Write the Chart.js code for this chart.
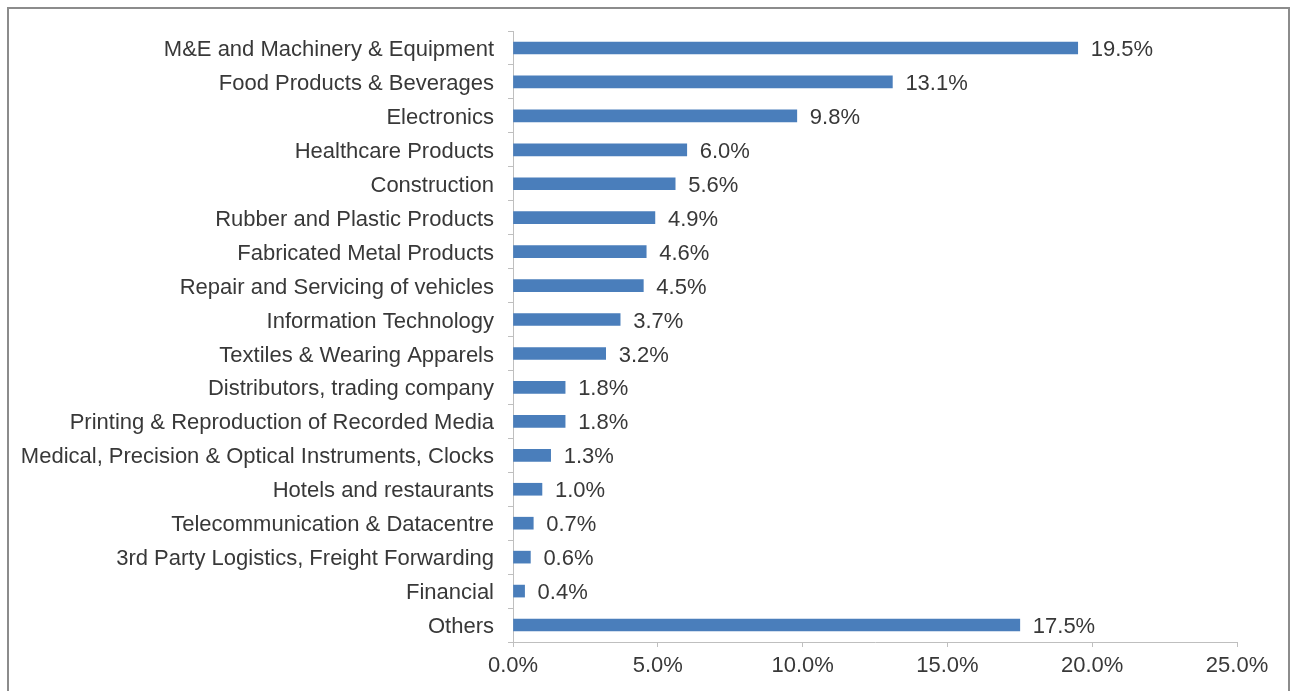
<!DOCTYPE html>
<html>
<head>
<meta charset="utf-8">
<script src="https://cdn.jsdelivr.net/npm/chart.js@4/dist/chart.umd.min.js"></script>
<style>
  body { margin: 0; background: #fff; }
  #wrap { position: relative; width: 1295px; height: 691px; }
  #frame { position: absolute; left: 7px; top: 7px; width: 1279px; height: 700px; border: 2px solid #8c8c8c; }
  canvas { position: absolute; left: 0; top: 0; }
</style>
</head>
<body>
<div id="wrap">
  <div id="frame"></div>
  <canvas id="chart" width="1295" height="691"></canvas>
</div>
<script>
var sectors = [
  'M&E and Machinery & Equipment',
  'Food Products & Beverages',
  'Electronics',
  'Healthcare Products',
  'Construction',
  'Rubber and Plastic Products',
  'Fabricated Metal Products',
  'Repair and Servicing of vehicles',
  'Information Technology',
  'Textiles & Wearing Apparels',
  'Distributors, trading company',
  'Printing & Reproduction of Recorded Media',
  'Medical, Precision & Optical Instruments, Clocks',
  'Hotels and restaurants',
  'Telecommunication & Datacentre',
  '3rd Party Logistics, Freight Forwarding',
  'Financial',
  'Others'
];
var shares = [19.5, 13.1, 9.8, 6.0, 5.6, 4.9, 4.6, 4.5, 3.7, 3.2, 1.8, 1.8, 1.3, 1.0, 0.7, 0.6, 0.4, 17.5];
var xTicks = [0, 5, 10, 15, 20, 25];

var font = { family: '"Liberation Sans", Arial, sans-serif', size: 22 };
var textColor = '#383838';
var axisColor = '#bfbfbf';

// category names on the left and value labels to the right of each bar
var barLabels = {
  id: 'barLabels',
  afterDatasetsDraw: function (chart) {
    var ctx = chart.ctx;
    var meta = chart.getDatasetMeta(0);
    var yScale = chart.scales.y;
    ctx.save();
    ctx.font = font.size + 'px ' + font.family;
    ctx.fillStyle = textColor;
    ctx.textBaseline = 'middle';
    ctx.textAlign = 'right';
    sectors.forEach(function (name, i) {
      ctx.fillText(name, yScale.right - 19, yScale.getPixelForTick(i) + 2);
    });
    ctx.textAlign = 'left';
    meta.data.forEach(function (bar, i) {
      ctx.fillText(shares[i].toFixed(1) + '%', bar.x + 13, bar.y + 2);
    });
    ctx.restore();
  }
};

new Chart('chart', {
  type: 'bar',
  data: {
    labels: sectors,
    datasets: [{
      data: shares,
      backgroundColor: '#4a7ebb',
      borderWidth: 0,
      barThickness: 12
    }]
  },
  options: {
    indexAxis: 'y',
    responsive: false,
    animation: false,
    layout: { padding: { left: 0, right: 58, top: 31, bottom: 0 } },
    plugins: {
      legend: { display: false },
      tooltip: { enabled: false }
    },
    scales: {
      x: {
        min: 0,
        max: 25,
        afterBuildTicks: function (scale) {
          scale.ticks = xTicks.map(function (v) { return { value: v }; });
        },
        afterFit: function (scale) { scale.height = 49; },
        ticks: {
          color: textColor,
          font: font,
          padding: 6,
          maxRotation: 0,
          callback: function (v) { return v.toFixed(1) + '%'; }
        },
        grid: { drawOnChartArea: false, color: axisColor, tickLength: 5 },
        border: { color: axisColor, width: 1 }
      },
      y: {
        afterFit: function (scale) { scale.width = 513; },
        ticks: { display: false },
        grid: { drawOnChartArea: false, color: axisColor, tickLength: 5, offset: true },
        border: { color: axisColor, width: 1 }
      }
    }
  },
  plugins: [barLabels]
});
</script>
</body>
</html>
